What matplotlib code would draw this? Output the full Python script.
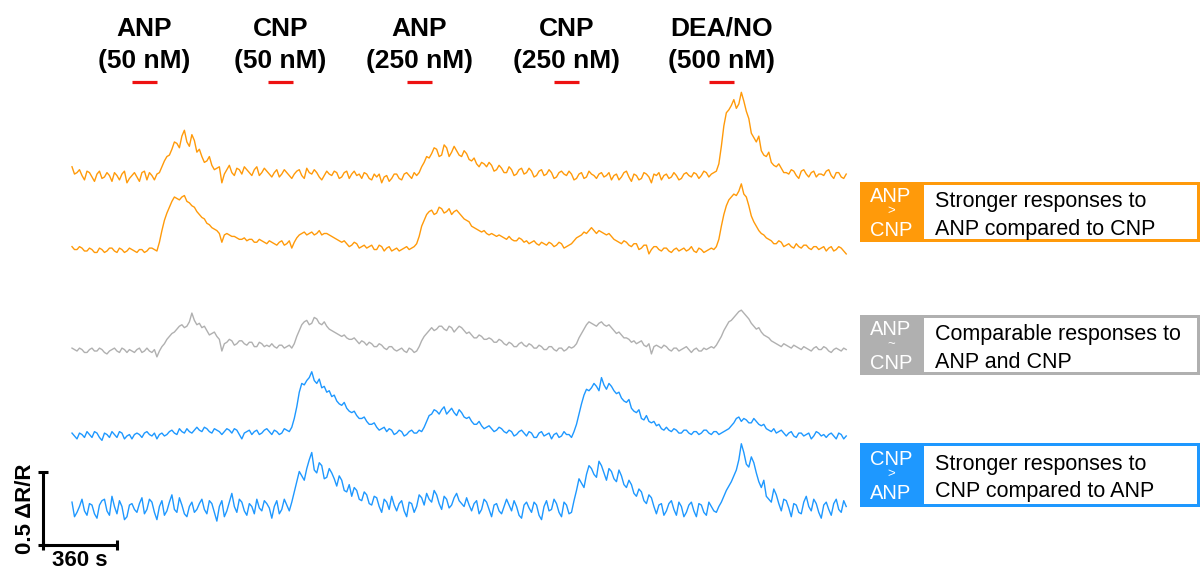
import numpy as np
import matplotlib.pyplot as plt
import matplotlib.transforms as mtransforms
from matplotlib.patches import Rectangle

plt.rcParams['font.family'] = ['Liberation Sans', 'DejaVu Sans']

#%% --- Data ---

# Traces in hundredths of dR/R. Main samples every ~24 s, the "_mid" lists
# hold the samples read in between them (~12 s later each).
sample_interval_s = 24.3

anp_gt_cnp_a = [7, 3, 1, 4, 0, 2, -1, 3, -3, 1, 2, -4, 1,
                0, 3, -2, 1, 2, 7, 14, 19, 23, 28, 24, 29, 17,
                14, 11, 8, 6, -4, 5, 3, 6, 2, 5, 1, 7, 3,
                4, 0, 5, 2, 3, -1, 4, 1, 6, 2, 3, -2, 4,
                1, 3, 0, 4, 2, 1, -1, 2, -2, 0, -4, 1, -1,
                2, -2, 3, -1, 1, 7, 14, 16, 19, 15, 20, 17, 18,
                14, 16, 11, 9, 10, 7, 8, 5, 6, 3, 5, 2, 6,
                3, 4, 1, 5, 2, 3, 0, 4, 1, 2, -1, 3, 0,
                2, -1, 3, 1, -2, 2, 0, 4, -3, 1, -1, 2, -4,
                1, -2, 2, 0, 1, -1, 3, 0, 2, 1, 3, 2, 4,
                21, 44, 49, 47, 58, 45, 30, 24, 18, 14, 10, 7, 6,
                3, 5, 1, 4, 2, 3, 0, 2, 4, 1, 3, 0, 2]
anp_gt_cnp_a_mid = [2, 5, -2, 3, -3, 4, 0, 1, 3, -2, 4, -1, 3,
                    -3, 4, 3, -2, 3, 11, 15, 24, 20, 32, 21, 25, 19,
                    10, 14, 5, 7, 2, 8, 1, 5, 7, 3, 5, 1, 6,
                    2, 3, 0, 5, 1, 2, 5, -1, 3, 5, 0, 1, 2,
                    4, -1, 3, -1, 4, 2, 3, -1, 2, 2, 0, -3, 2,
                    -1, 2, 1, 3, 3, 10, 13, 20, 14, 22, 14, 21, 15,
                    18, 12, 13, 7, 9, 10, 4, 8, 3, 7, 1, 5, 2,
                    6, 0, 4, 1, 5, -1, 3, 2, 4, -2, 2, -1, 4,
                    1, 2, 0, 3, 1, -2, 3, 0, 2, -2, 3, 0, 2,
                    3, 1, -1, 3, -2, 2, 1, 3, -1, 4, 0, 3, 9,
                    35, 46, 53, 50, 52, 40, 27, 28, 15, 17, 8, 9, 3,
                    2, 4, -1, 5, 0, 4, 2, 1, 5, -1, 3, -1]

anp_gt_cnp_b = [3, 1, 2, 0, 1, -1, 1, 0, 2, -1, 1, 0, 1,
                -1, 1, 0, 2, 0, 14, 26, 34, 36, 37, 34, 31, 27,
                23, 19, 16, 14, 6, 12, 10, 9, 8, 7, 8, 6, 7,
                5, 6, 4, 7, 5, 2, 9, 12, 11, 13, 12, 11, 12,
                10, 8, 6, 5, 4, 5, 3, 2, 4, 1, 3, 2, 0,
                2, 1, 3, 2, 5, 17, 25, 28, 26, 29, 27, 25, 28,
                24, 21, 17, 15, 13, 12, 12, 10, 10, 8, 8, 7, 8,
                7, 6, 5, 6, 4, 5, 4, 5, 3, 5, 9, 11, 12,
                16, 12, 13, 11, 10, 7, 5, 6, 3, 5, 2, 4, 1,
                3, 0, 2, -1, 2, 1, 0, 3, -1, 1, 0, 2, 3,
                17, 31, 37, 38, 46, 37, 24, 17, 12, 9, 7, 5, 6,
                4, 3, 5, 2, 4, 1, 3, 2, 0, 3, 1, 2, -2]
anp_gt_cnp_b_mid = [1, 3, 0, 2, -1, 2, -1, 2, 0, 2, -1, 2, 0,
                    1, -1, 2, 1, 6, 21, 30, 37, 35, 38, 33, 30, 25,
                    22, 18, 15, 12, 11, 11, 10, 8, 9, 8, 6, 8, 6,
                    7, 5, 6, 4, 7, 6, 11, 13, 12, 11, 14, 12, 11,
                    9, 7, 7, 3, 6, 2, 4, 3, 1, 4, 0, 3, 1,
                    0, 2, 1, 3, 10, 21, 27, 25, 30, 26, 29, 27, 26,
                    22, 20, 16, 14, 14, 11, 11, 11, 9, 10, 7, 9, 6,
                    5, 7, 4, 5, 6, 3, 6, 2, 4, 7, 10, 13, 14,
                    14, 14, 12, 12, 8, 6, 7, 4, 5, 1, 4, -2, 3,
                    1, 2, 0, 1, 0, 2, 1, 0, 2, -1, 1, 1, 8,
                    25, 35, 39, 41, 39, 31, 20, 14, 11, 8, 5, 7, 3,
                    5, 2, 3, 4, 2, 3, 1, 3, 2, 0, 3, 0]

anp_eq_cnp = [2, 0, 1, -1, 2, 0, 1, -2, 1, 0, 2, -1, 0,
              1, -1, 2, -1, -4, 3, 8, 12, 15, 18, 17, 26, 18,
              16, 14, 12, 10, 0, 6, 7, 5, 7, 4, 6, 3, 5,
              4, 5, 2, 4, 3, 2, 10, 18, 21, 19, 22, 18, 17,
              14, 12, 10, 9, 8, 7, 7, 4, 5, 3, 4, 1, 3,
              0, 2, -1, 1, 0, 7, 12, 16, 15, 17, 14, 16, 15,
              16, 12, 11, 9, 10, 8, 8, 6, 7, 4, 5, 3, 6,
              3, 4, 2, 3, 1, 3, 0, 2, 1, 2, 5, 12, 18,
              19, 17, 20, 17, 16, 12, 11, 9, 6, 5, 7, 3, -2,
              4, 2, 3, 0, 2, 1, 3, -1, 2, 0, 1, 3, 4,
              10, 17, 21, 25, 28, 24, 19, 15, 13, 10, 7, 5, 3,
              4, 2, 3, 1, 2, 0, 3, 1, 2, -1, 2, 0, 1]
anp_eq_cnp_mid = [1, 2, -1, 1, 0, 2, -1, 0, 2, -1, 1, 1, -1,
                  2, 0, 0, 1, 0, 5, 10, 13, 17, 16, 20, 21, 19,
                  17, 11, 13, 8, 5, 8, 4, 7, 5, 6, 3, 6, 3,
                  3, 3, 4, 2, 4, 5, 14, 20, 18, 23, 19, 20, 15,
                  13, 11, 11, 8, 9, 5, 6, 6, 3, 5, 2, 3, 1,
                  1, 0, 2, -1, 3, 10, 14, 14, 17, 15, 17, 13, 17,
                  14, 13, 9, 11, 8, 9, 6, 8, 5, 6, 3, 5, 4,
                  5, 2, 4, 1, 3, 1, 2, 0, 3, 3, 9, 15, 20,
                  18, 19, 18, 18, 14, 13, 9, 8, 7, 6, 4, 5, 3,
                  3, 4, 1, 2, 0, 2, 1, 1, 0, 2, 2, 2, 7,
                  14, 20, 23, 27, 26, 22, 17, 16, 11, 9, 6, 4, 5,
                  3, 4, 2, 3, 1, 2, 1, 3, 0, 1, 1, 2]

cnp_gt_anp_a = [2, -2, 1, 3, -1, 2, -3, 1, 3, -1, 2, 0, -2,
                2, -1, 3, 0, -2, 2, 1, 4, 1, 3, 5, 2, 6,
                3, 5, 2, 4, 1, 5, 2, 4, -2, 3, 1, 4, 2,
                5, 1, 3, 2, 4, 6, 20, 36, 38, 44, 36, 33, 30,
                27, 24, 21, 19, 16, 14, 12, 10, 8, 6, 5, 3, 4,
                2, 3, 1, 4, 2, 3, 10, 15, 17, 18, 15, 19, 14,
                16, 12, 10, 8, 7, 6, 5, 4, 5, 2, 3, 1, 4,
                0, 2, -1, 3, 1, -2, 2, 0, 1, -1, 8, 22, 32,
                33, 34, 40, 32, 34, 29, 26, 23, 19, 16, 12, 14, 9,
                7, 5, 6, 3, 4, 2, 4, 1, 3, 2, 4, 1, 3,
                2, 4, 7, 12, 10, 11, 9, 10, 7, 5, 3, 2, 4,
                0, 3, -1, 2, 1, -2, 3, 0, -1, 2, -2, 1, 0]
cnp_gt_anp_a_mid = [0, 2, -1, 1, 3, -1, 2, -1, 1, 3, -2, 1, 1,
                    1, 2, 1, 2, 1, 0, 3, 2, 5, 2, 3, 4, 4,
                    6, 3, 5, 3, 3, 4, 5, 1, 2, 4, 3, 1, 4,
                    3, 4, 1, 5, 3, 12, 30, 35, 40, 38, 39, 34, 31,
                    28, 22, 23, 17, 17, 12, 13, 8, 9, 4, 6, 5, 1,
                    4, 0, 3, 2, 4, 6, 14, 18, 15, 20, 17, 16, 18,
                    13, 13, 8, 10, 5, 7, 3, 6, 3, 4, 0, 3, 2,
                    3, -1, 2, 0, 2, 1, -1, 3, 1, 3, 15, 28, 31,
                    36, 31, 35, 36, 31, 30, 24, 25, 17, 18, 11, 10, 10,
                    8, 4, 4, 5, 2, 4, 2, 3, 1, 4, 2, 3, 1,
                    3, 5, 9, 13, 12, 9, 12, 8, 8, 4, 5, 3, 2,
                    2, 0, 2, 0, 2, 0, 2, 1, 1, 0, 2, -2]

cnp_gt_anp_b = [4, -3, 6, -5, 2, -7, 5, -2, 8, -4, 1, -6, 3,
                -3, 7, -1, 4, -8, 5, -2, 9, -3, 2, -6, 4, -1,
                6, -4, 3, -9, 5, -2, 10, -3, 4, -5, 1, 6, -2,
                3, -7, 5, -1, 2, 4, 18, 22, 27, 38, 24, 29, 21,
                24, 15, 19, 11, 8, 12, 5, 9, 2, 7, -3, 4, 8,
                -2, 5, -6, 3, 1, 7, 10, 4, 9, -1, 6, 2, 10,
                3, 7, -2, 5, -1, 4, -6, 3, -4, 6, -2, 1, -7,
                4, -3, 2, -8, 5, -1, 3, -6, 2, -3, 12, 17, 23,
                27, 21, 29, 19, 25, 18, 22, 14, 16, 8, 11, 3, 7,
                -4, 3, -2, 5, -5, 1, -3, 4, -6, 2, -5, 1, -3,
                4, 12, 18, 26, 44, 30, 35, 24, 14, 8, 4, 9, -2,
                5, -6, 2, -4, 8, -2, 3, -7, 4, -5, 6, -3, 1]
cnp_gt_anp_b_mid = [-6, 1, -2, 3, -4, 2, 6, -5, 1, 5, -8, 2, -1,
                    3, -4, 6, -3, 1, -5, 4, -1, 7, -4, 1, -3, 3,
                    -1, 5, -3, 1, -6, 4, 1, 6, -2, 3, -4, 0, 5,
                    0, 1, -4, 6, -2, 11, 25, 19, 33, 26, 31, 20, 27,
                    20, 22, 12, 16, 14, 6, 11, 3, 8, 1, 6, -1, 2,
                    3, -2, 4, -3, 9, 2, 6, 12, 3, 8, 0, 7, 5,
                    1, 2, 3, -4, 6, -1, 2, -2, 1, 2, 5, -5, 2,
                    0, 4, -5, 1, -2, 6, -3, 4, -4, 5, 20, 14, 29,
                    23, 32, 24, 27, 20, 26, 16, 19, 10, 13, 5, 9, 1,
                    2, -5, 3, -1, 4, -6, 2, -2, 3, -3, 4, -2, 1,
                    8, 15, 22, 33, 38, 28, 31, 18, 19, 6, 13, 3, 6,
                    0, 3, -3, 4, 1, 6, -3, 2, -1, 3, -1, 5]

stim_names = ["ANP", "CNP", "ANP", "CNP", "DEA/NO"]
stim_conc = ["(50 nM)", "(50 nM)", "(250 nM)", "(250 nM)", "(500 nM)"]
stim_start_s = [292, 953, 1630, 2345, 3099]
stim_length_s = 120

legend_tags = [["ANP", ">", "CNP"], ["ANP", "~", "CNP"], ["CNP", ">", "ANP"]]
legend_texts = [["Stronger responses to", "ANP compared to CNP"],
                ["Comparable responses to", "ANP and CNP"],
                ["Stronger responses to", "CNP compared to ANP"]]

scale_dr = 0.5
scale_t = 360

#%% --- Layout / style ---

W, H = 1202, 569
px_per_s = 74 / 360
px_per_unit = 146
x0_px = 72

orange = "#FF9A0A"
gray = "#B0B0B0"
blue = "#1E98FF"
red = "#EE1111"

trace_offsets = [2.685, 2.178, 1.493, 0.911, 0.418]
trace_colors = [orange, orange, gray, blue, blue]


def interleave(main, mid):
    full = np.empty(len(main) + len(mid))
    full[0::2] = main
    full[1::2] = mid
    return full


fig = plt.figure(figsize=(W / 100, H / 100), dpi=100)
ax = fig.add_axes([0, 0, 1, 1])
ax.set_xlim(-x0_px / px_per_s, (W - x0_px) / px_per_s)
ax.set_ylim(0, H / px_per_unit)
ax.axis("off")

# --- traces ---
traces = [(anp_gt_cnp_a, anp_gt_cnp_a_mid), (anp_gt_cnp_b, anp_gt_cnp_b_mid),
          (anp_eq_cnp, anp_eq_cnp_mid), (cnp_gt_anp_a, cnp_gt_anp_a_mid),
          (cnp_gt_anp_b, cnp_gt_anp_b_mid)]
for (main, mid), offset, color in zip(traces, trace_offsets, trace_colors):
    v = interleave(main, mid) / 100
    t = np.arange(len(v)) * sample_interval_s / 2
    ax.plot(t, v + offset, color=color, lw=1.0)

# --- stimulus bars and labels ---
stim_bar_y = 3.336
top = mtransforms.blended_transform_factory(ax.transData, fig.transFigure)
for name, conc, start in zip(stim_names, stim_conc, stim_start_s):
    ax.plot([start, start + stim_length_s], [stim_bar_y, stim_bar_y],
            color=red, lw=2.3, solid_capstyle="butt")
    mid = start + stim_length_s / 2
    ax.text(mid, 1 - 36 / H, name, transform=top, ha="center",
            va="baseline", fontsize=19, fontweight="bold")
    ax.text(mid, 1 - 68 / H, conc, transform=top, ha="center",
            va="baseline", fontsize=19, fontweight="bold")

# --- scale bar ---
sb_x = -141
sb_y = 0.164
ax.plot([sb_x, sb_x + scale_t], [sb_y, sb_y], color="black", lw=2.2,
        marker="|", ms=7, mew=2.2, solid_capstyle="butt")
ax.plot([sb_x, sb_x], [sb_y, sb_y + scale_dr], color="black", lw=2.2,
        marker="_", ms=7, mew=2.2, solid_capstyle="butt")
ax.text(sb_x + scale_t / 2, 0.02, "360 s", ha="center", va="baseline",
        fontsize=16, fontweight="bold")
ax.text(-226, sb_y + scale_dr / 2, "0.5 \u0394R/R", ha="center", va="center",
        rotation=90, fontsize=16, fontweight="bold")

# --- legend boxes ---
box_tops = [182, 315, 443]
box_heights = [60, 60, 64]
box_colors = [orange, gray, blue]
for tags, texts, btop, bh, bc in zip(legend_tags, legend_texts, box_tops,
                                     box_heights, box_colors):
    fig.add_artist(Rectangle((860 / W, 1 - (btop + bh) / H), 340 / W, bh / H,
                             transform=fig.transFigure, facecolor=bc,
                             edgecolor="none"))
    fig.add_artist(Rectangle((924 / W, 1 - (btop + bh - 3) / H), 273 / W,
                             (bh - 6) / H, transform=fig.transFigure,
                             facecolor="white", edgecolor="none"))
    cy = btop + bh / 2
    fig.text(891 / W, 1 - (cy - 10) / H, tags[0], color="white",
             ha="center", va="baseline", fontsize=14.5)
    fig.text(891 / W, 1 - (cy - 1) / H, tags[1], color="white",
             ha="center", va="center", fontsize=9.5)
    fig.text(891 / W, 1 - (cy + 24) / H, tags[2], color="white",
             ha="center", va="baseline", fontsize=14.5)
    fig.text(935 / W, 1 - (cy - 5) / H, texts[0], ha="left",
             va="baseline", fontsize=15.5)
    fig.text(935 / W, 1 - (cy + 22.5) / H, texts[1], ha="left",
             va="baseline", fontsize=15.5)

fig.savefig("out.png", dpi=100)
